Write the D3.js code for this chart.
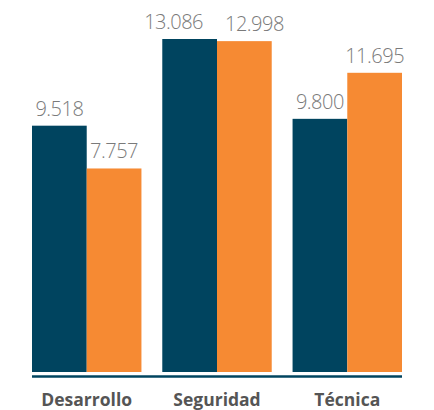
<!DOCTYPE html>
<html>
<head>
<meta charset="utf-8">
<script src="https://cdn.jsdelivr.net/npm/d3@7"></script>
<style>
  body { margin: 0; background: #fff; }
  .value { font-family: "Open Sans", sans-serif; font-weight: 300; font-size: 20px; fill: #7a7a7a; letter-spacing: -0.5px; }
  .cat { font-family: "Open Sans", sans-serif; font-weight: 700; font-size: 17.5px; fill: #555; }
</style>
</head>
<body>
<div id="chart"></div>
<script>
// datos
const categories = ['Desarrollo', 'Seguridad', 'Técnica'];
const seriesA = [9.518, 13.086, 9.800];
const seriesB = [7.757, 12.998, 11.695];
const seriesColors = ['#00445f', '#f68a33'];

const size = {width: 434, height: 410};
const svg = d3.select('#chart').append('svg')
    .attr('width', size.width)
    .attr('height', size.height);

// escalas
const x = d3.scaleBand().domain(categories).range([32, 402]).paddingInner(0.16).paddingOuter(0);
const xs = d3.scaleBand().domain([0, 1]).range([0, x.bandwidth()]);
const y = d3.scaleLinear().domain([-0.62, d3.max(seriesA.concat(seriesB))]).range([372, 39]);

const fmt = v => d3.format('.3f')(v);

const rows = categories.map((c, i) => ({cat: c, vals: [seriesA[i], seriesB[i]]}));

const groups = svg.selectAll('g.grp')
    .data(rows)
    .enter().append('g')
    .attr('class', 'grp')
    .attr('transform', d => `translate(${x(d.cat)},0)`);

groups.selectAll('rect')
    .data(d => d.vals)
    .enter().append('rect')
    .attr('x', (d, i) => xs(i))
    .attr('width', xs.bandwidth())
    .attr('y', d => y(d))
    .attr('height', d => y.range()[0] - y(d))
    .attr('fill', (d, i) => seriesColors[i]);

// etiquetas de valor
groups.each(function (d) {
    const g = d3.select(this);
    const labels = d.vals.map((v, i) => g.append('text')
        .attr('class', 'value')
        .attr('x', xs(i) + xs.bandwidth() / 2)
        .attr('y', y(v) - 10)
        .attr('text-anchor', 'middle')
        .text(fmt(v)));
    // evitar que se solapen cuando los valores son parecidos
    const w0 = labels[0].node().getComputedTextLength();
    const w1 = labels[1].node().getComputedTextLength();
    const mid = xs(1);
    const ya = y(d.vals[0]) - 10, yb = y(d.vals[1]) - 10;
    if (Math.abs(ya - yb) < 20 && (xs(0) + xs.bandwidth() / 2 + w0 / 2) > (mid + xs.bandwidth() / 2 - w1 / 2) - 8) {
        labels[0].attr('text-anchor', 'end').attr('x', mid - 14);
        labels[1].attr('text-anchor', 'start').attr('x', mid + 8);
    }
});

// eje
svg.append('line')
    .attr('x1', x.range()[0]).attr('x2', x.range()[1])
    .attr('y1', 376.5).attr('y2', 376.5)
    .attr('stroke', seriesColors[0])
    .attr('stroke-width', 2.5);

svg.selectAll('text.cat')
    .data(categories)
    .enter().append('text')
    .attr('class', 'cat')
    .attr('x', d => x(d) + x.bandwidth() / 2)
    .attr('y', 406)
    .attr('text-anchor', 'middle')
    .text(d => d);
</script>
</body>
</html>
